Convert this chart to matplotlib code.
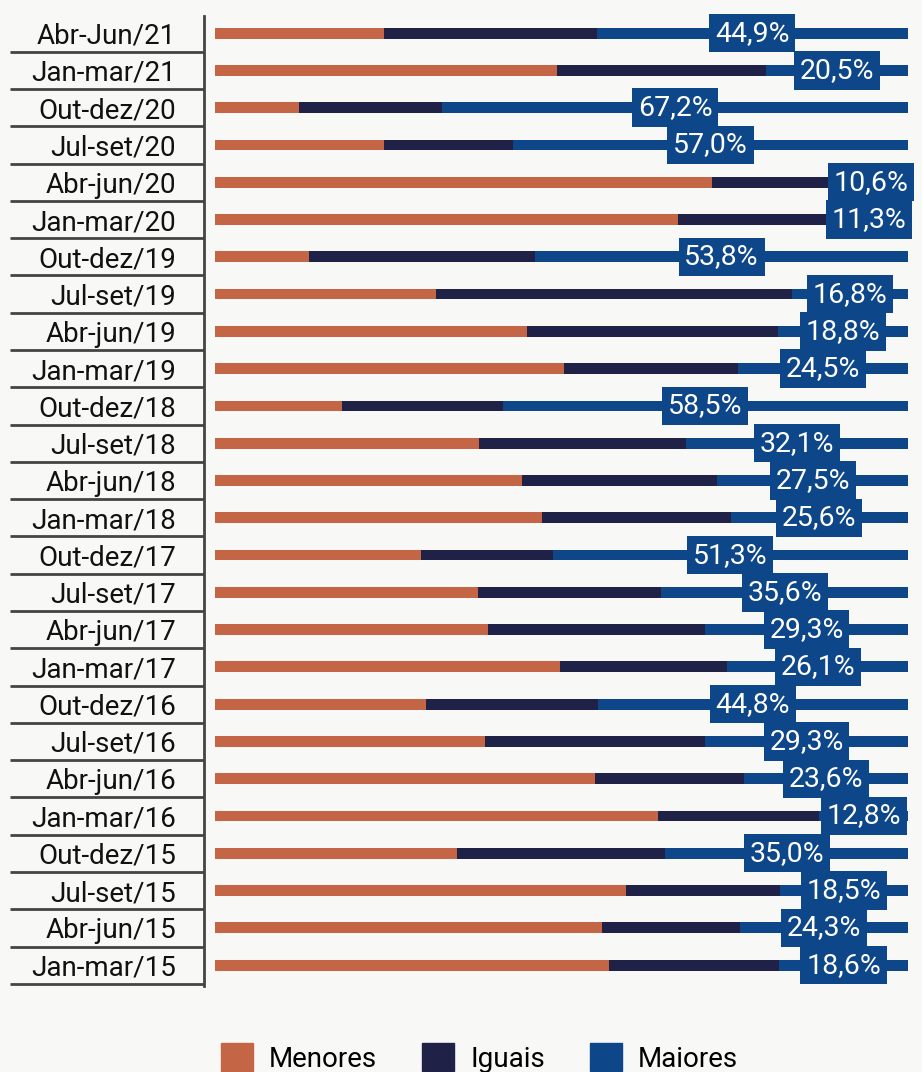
import numpy as np
import matplotlib.pyplot as plt

plt.rcParams['font.family'] = ['Roboto', 'DejaVu Sans']

periods = ['Abr-Jun/21', 'Jan-mar/21', 'Out-dez/20', 'Jul-set/20', 'Abr-jun/20', 'Jan-mar/20',
           'Out-dez/19', 'Jul-set/19', 'Abr-jun/19', 'Jan-mar/19', 'Out-dez/18', 'Jul-set/18',
           'Abr-jun/18', 'Jan-mar/18', 'Out-dez/17', 'Jul-set/17', 'Abr-jun/17', 'Jan-mar/17',
           'Out-dez/16', 'Jul-set/16', 'Abr-jun/16', 'Jan-mar/16', 'Out-dez/15', 'Jul-set/15',
           'Abr-jun/15', 'Jan-mar/15']
menores = [24.4, 49.4, 12.1, 24.4, 71.7, 66.8, 13.6, 31.9, 45.0, 50.4, 18.3, 38.1, 44.3,
           47.2, 29.7, 38.0, 39.4, 49.8, 30.4, 39.0, 54.8, 63.9, 34.9, 59.3, 55.8, 56.9]
iguais = [30.7, 30.1, 20.7, 18.6, 17.7, 21.9, 32.6, 51.3, 36.2, 25.1, 23.2, 29.8, 28.2,
          27.2, 19.0, 26.4, 31.3, 24.1, 24.8, 31.7, 21.6, 23.3, 30.1, 22.2, 19.9, 24.5]
maiores = [44.9, 20.5, 67.2, 57.0, 10.6, 11.3, 53.8, 16.8, 18.8, 24.5, 58.5, 32.1, 27.5,
           25.6, 51.3, 35.6, 29.3, 26.1, 44.8, 29.3, 23.6, 12.8, 35.0, 18.5, 24.3, 18.6]

c_men = '#C46546'
c_igu = '#1F2147'
c_mai = '#0D4689'
bg = '#F8F8F6'

fig = plt.figure(figsize=(9.22, 10.72), dpi=100, facecolor=bg)
ax = fig.add_axes([0.2213, 0.0802, 0.7635, 0.9049])
ax.set_facecolor(bg)

y = np.arange(len(periods))
men = np.array(menores)
igu = np.array(iguais)
mai = np.array(maiores)
h = 0.29
ax.barh(y, men, height=h, color=c_men, zorder=2)
ax.barh(y, igu, left=men, height=h, color=c_igu, zorder=2)
ax.barh(y, mai, left=men + igu, height=h, color=c_mai, zorder=2)

for i in range(len(periods)):
    start = men[i] + igu[i]
    xc = min(start + mai[i] / 2, 96.0)
    ax.text(xc, y[i], f'{mai[i]:.1f}%'.replace('.', ','), ha='center', va='center',
            fontsize=20.5, color='white', zorder=4, clip_on=False,
            bbox=dict(boxstyle='square,pad=0.2', fc=c_mai, ec='none'))

ax.set_xlim(-1.6, 100)
ax.set_ylim(25.56, -0.46)
ax.set_xticks([])
ax.set_yticks(y)
ax.set_yticklabels(periods, fontsize=20, color='#111111')
ax.set_yticks(np.arange(0.5, len(periods), 1), minor=True)
ax.tick_params(axis='y', which='major', length=0, pad=20)
ax.tick_params(axis='y', which='minor', length=140, width=2, color='#444444')
for s in ['top', 'right', 'bottom']:
    ax.spines[s].set_visible(False)
ax.spines['left'].set_color('#444444')
ax.spines['left'].set_linewidth(2)

handles = [plt.Rectangle((0, 0), 1, 1, color=c) for c in (c_men, c_igu, c_mai)]
fig.legend(handles, ['Menores', 'Iguais', 'Maiores'], loc='upper center',
           bbox_to_anchor=(0.52, 0.05), ncol=3, frameon=False, fontsize=20,
           handlelength=1.15, handleheight=1.15, handletextpad=0.6, columnspacing=1.6)

fig.savefig('out.png', dpi=100, facecolor=bg)
